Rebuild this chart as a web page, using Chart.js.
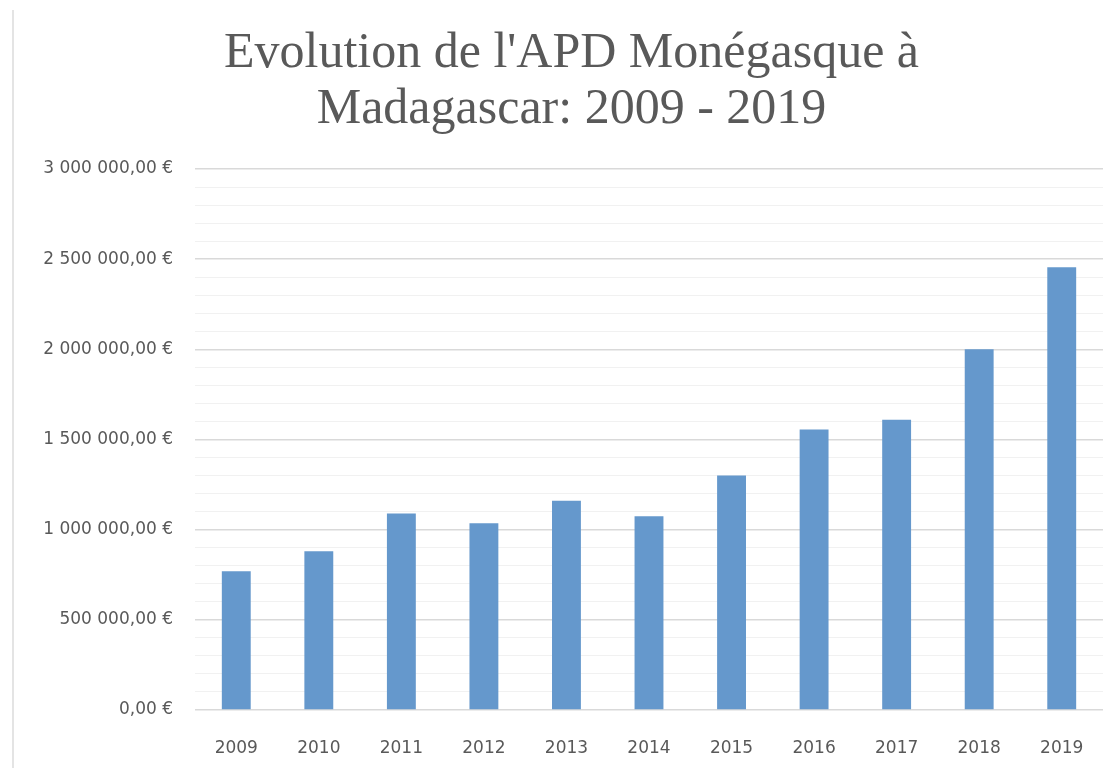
<!DOCTYPE html>
<html>
<head>
<meta charset="utf-8">
<script src="https://cdn.jsdelivr.net/npm/chart.js@4/dist/chart.umd.min.js"></script>
<style>
    body { margin: 0; background: #fff; }
    #wrap { position: relative; width: 1116px; height: 768px; }
    #edge { position: absolute; left: 12px; top: 10px; width: 2px; height: 758px; background: #e4e4e4; }
</style>
</head>
<body>
<div id="wrap">
    <div id="edge"></div>
    <canvas id="apdChart"></canvas>
</div>
<script>
    const years = ['2009', '2010', '2011', '2012', '2013', '2014', '2015', '2016', '2017', '2018', '2019'];
    const apdAmounts = [770000, 880000, 1090000, 1035000, 1160000, 1075000, 1300000, 1555000, 1610000, 2000000, 2455000];
    const titleLines = ["Evolution de l'APD Monégasque à", 'Madagascar: 2009 - 2019'];

    // 3000000 -> "3 000 000,00 €"
    const formatEuro = (v) => {
        const intPart = String(Math.round(v)).replace(/\B(?=(\d{3})+(?!\d))/g, ' ');
        return intPart + ',00 €';
    };

    const ctx = document.getElementById('apdChart').getContext('2d');
    new Chart(ctx, {
        type: 'bar',
        data: {
            labels: years,
            datasets: [{
                label: 'APD',
                data: apdAmounts,
                backgroundColor: '#6598cc',
                barPercentage: 0.35,
                categoryPercentage: 1
            }]
        },
        options: {
            responsive: true,
            maintainAspectRatio: false,
            animation: false,
            layout: {
                padding: { top: 16, right: 13, bottom: 0, left: 40 }
            },
            plugins: {
                legend: { display: false },
                tooltip: { enabled: false },
                title: {
                    display: true,
                    text: titleLines,
                    color: '#595959',
                    font: { family: 'Liberation Serif', size: 50, weight: 'normal', lineHeight: 1.12 },
                    padding: { top: 10, bottom: 31 }
                }
            },
            scales: {
                x: {
                    afterFit: (scale) => { scale.height = 58; },
                    grid: { display: false },
                    border: { display: false },
                    ticks: {
                        color: '#595959',
                        font: { family: 'DejaVu Sans', size: 17 },
                        padding: 20
                    }
                },
                y: {
                    min: 0,
                    max: 3000000,
                    afterFit: (scale) => { scale.width = 155; },
                    border: { display: false },
                    grid: {
                        drawTicks: false,
                        color: (c) => (c.tick && c.tick.value % 500000 === 0) ? '#d9d9d9' : '#f1f1f1',
                        lineWidth: (c) => (c.tick && c.tick.value % 500000 === 0) ? 1.5 : 1
                    },
                    ticks: {
                        stepSize: 100000,
                        autoSkip: false,
                        padding: 22,
                        color: '#595959',
                        font: { family: 'DejaVu Sans', size: 17 },
                        callback: (v) => (v % 500000 === 0) ? formatEuro(v) : ''
                    }
                }
            }
        }
    });
</script>
</body>
</html>
